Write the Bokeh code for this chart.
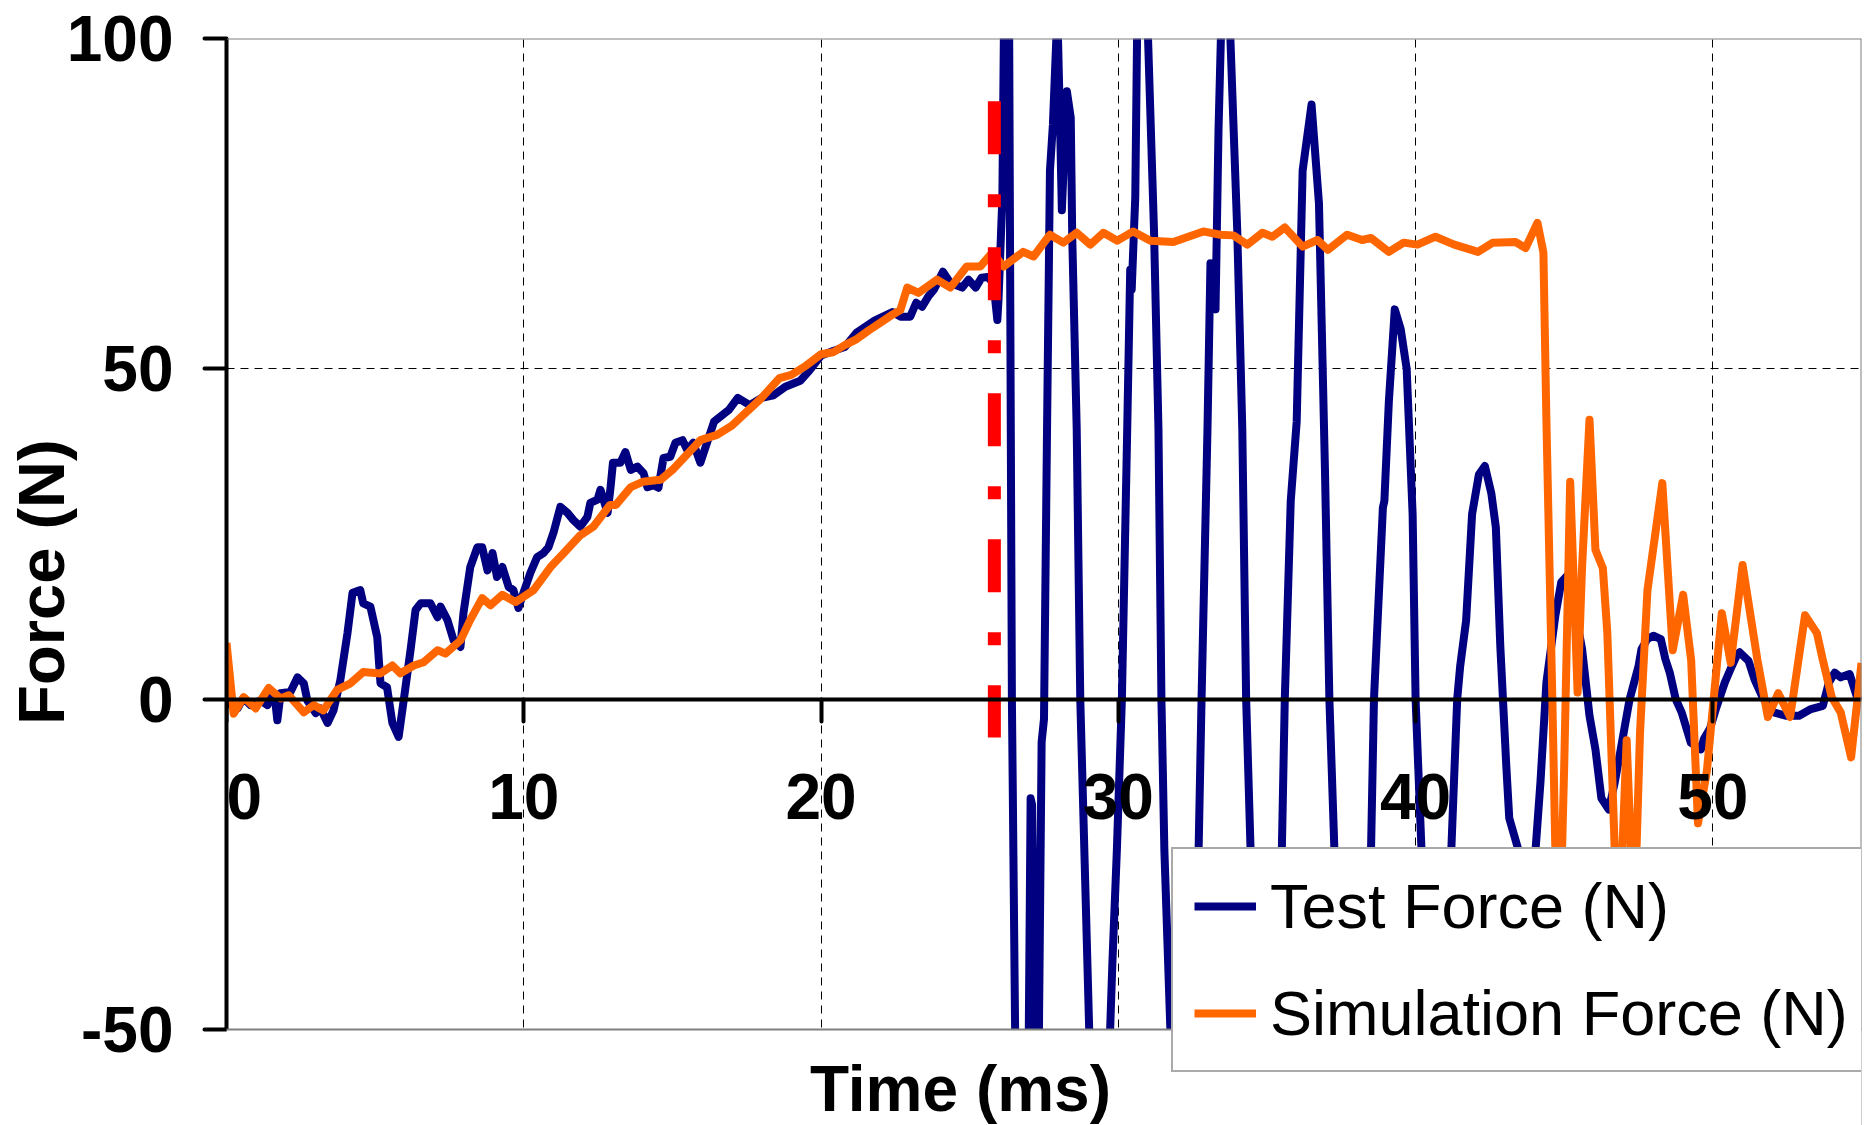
from bokeh.plotting import figure
from bokeh.models import Range1d, Label, Legend, LegendItem, FixedTicker, BoxAnnotation, Span
from bokeh.embed import file_html
from bokeh.resources import INLINE

# ---------------- data ----------------
test_time = [0.0, 0.13, 0.37, 0.57, 0.81, 1.14, 1.38, 1.48, 1.62, 1.71, 1.82, 2.15, 2.39, 2.6, 2.72,
             3.0, 3.16, 3.4, 3.6, 3.83, 4.07, 4.24, 4.5, 4.6, 4.84, 5.07, 5.18, 5.4, 5.58, 5.79,
             5.96, 6.19, 6.36, 6.53, 6.86, 7.1, 7.2, 7.43, 7.64, 7.87, 7.97, 8.2, 8.44, 8.6, 8.78,
             8.95, 9.1, 9.28, 9.49, 9.65, 9.82, 9.99, 10.22, 10.45, 10.66, 10.83, 11.0, 11.23, 11.47,
             11.67, 11.9, 12.14, 12.24, 12.48, 12.58, 12.82, 12.92, 13.0, 13.25, 13.42, 13.6, 13.82,
             14.03, 14.16, 14.36, 14.53, 14.7, 14.93, 15.1, 15.34, 15.5, 15.7, 15.94, 16.4, 16.9,
             17.2, 17.6, 18.0, 18.4, 18.8, 19.3, 19.6, 20.0, 20.4, 20.8, 21.2, 21.8, 22.4, 22.67,
             23.0, 23.2, 23.4, 23.6, 23.8, 24.1, 24.35, 24.75, 24.96, 25.2, 25.4, 25.6, 25.8, 25.93,
             25.97, 26.1, 26.2, 26.32, 26.42, 26.55, 26.75, 26.98, 27.05, 27.1, 27.2, 27.32, 27.42,
             27.5, 27.6, 27.7, 27.8, 27.95, 28.05, 28.1, 28.27, 28.4, 28.45, 28.6, 28.72, 28.9, 29.2,
             29.5, 29.8, 29.95, 30.12, 30.3, 30.4, 30.45, 30.57, 30.63, 30.8, 31.0, 31.2, 31.35,
             31.45, 31.55, 31.9, 32.4, 32.7, 32.8, 33.0, 33.1, 33.27, 33.37, 33.45, 33.6, 33.77,
             34.0, 34.17, 34.3, 34.45, 34.9, 35.3, 35.5, 35.6, 35.8, 36.0, 36.2, 36.5, 36.75, 36.95,
             37.1, 37.27, 37.8, 38.3, 38.5, 38.6, 38.9, 38.95, 39.1, 39.3, 39.5, 39.7, 39.9, 40.0,
             40.2, 40.7, 41.0, 41.2, 41.4, 41.5, 41.7, 41.9, 42.13, 42.33, 42.55, 42.7, 42.85, 43.05,
             43.15, 43.47, 43.7, 44.0, 44.2, 44.4, 44.7, 44.9, 45.1, 45.3, 45.6, 45.85, 46.05, 46.25,
             46.5, 46.7, 46.9, 47.2, 47.5, 47.6, 47.8, 48.0, 48.25, 48.4, 48.55, 48.75, 48.95, 49.26,
             49.6, 49.7, 49.9, 50.1, 50.4, 50.6, 50.8, 50.9, 51.2, 51.4, 51.65, 51.85, 52.05, 52.45,
             52.9, 53.3, 53.7, 53.9, 54.1, 54.3, 54.6, 54.85, 55.0]
test_force = [-1.2, 0.2, -1.4, 0.2, -0.9, -0.2, -0.9, 1.1, 0.5, -3.2, 0.9, 1.1, 3.3, 2.4, -0.2,
              -2.1, -1.4, -3.6, -1.7, 2.9, 10, 16.1, 16.5, 14.5, 14, 9.4, 2.4, 1.8, -3.6, -5.7,
              -0.2, 7.4, 13.5, 14.5, 14.5, 12.4, 14, 12, 8.9, 7.9, 13, 20, 23, 23, 19.5,
              22.1, 18.5, 20, 17, 16.5, 13.8, 16.1, 19.1, 21.5, 22.1, 23, 25.2, 29.1, 28.2,
              27.1, 26.1, 27.6, 29.7, 30.2, 31.7, 28.2, 32.1, 35.8, 35.8, 37.4, 34.7, 35.2,
              34.2, 32.1, 32.4, 32, 36.5, 36.7, 38.8, 39.2, 37.7, 38.8, 35.8, 42, 43.8,
              45.6, 44.5, 45.6, 46, 47.3, 48.2, 49.7, 52, 52.7, 53.3, 55.5, 57.3, 58.6, 57.9,
              57.9, 60, 59.4, 60.9, 62, 64.7, 63, 62.3, 63.5, 62.3, 63.8, 63.9, 63, 57.4,
              60.5, 76, 125, 110, 0, -60, -85, -55, -15, -16, -55, -55, -6.5,
              -3, 40, 80, 87, 104, 85, 74, 92, 88, 70, 41, 0, -30, -80,
              -80, -40, -23, 0, 41, 65, 62, 76, 100, 130, 100, 71, 41,
              0, -23, -70, -70, -23, 0, 41, 66, 59, 86, 100, 125, 100,
              71, 41, 0, -23, -55, -50, -23, 0, 30, 42, 80, 90, 75, 35,
              0, -23, -45, -40, -23, 0, 29, 30, 45, 59, 56, 50, 28, 0,
              -23, -40, -35, -23, 0, 5, 11.9, 28, 34, 35.3, 31.1, 26, 8, -10,
              -18, -23, -30, -25, -12.6, 2.5, 12.6, 17.7, 18.7, 15, 7.6, -2.5, -7.6, -15,
              -16.7, -12.6, -7.6, 0, 5, 7.6, 9.1, 9.6, 9.1, 6.1, 4, 0, -2, -6.6,
              -7.6, -6, -4.5, -1.5, 2.5, 4.6, 6.6, 7.1, 5.8, 3, 0.5, -1, -2, -2.5,
              -2.5, -1.5, -1, 2.5, 4, 3.3, 3.8, 0.3, 0.5]

sim_time = [0.0, 0.24, 0.58, 0.98, 1.42, 1.82, 2.09, 2.6, 2.93, 3.26, 3.72, 4.17, 4.6, 5.18, 5.58,
            5.85, 6.3, 6.63, 7.1, 7.37, 7.87, 8.2, 8.6, 8.88, 9.28, 9.72, 10.33, 10.9, 11.34, 11.9,
            12.34, 12.9, 13.1, 13.6, 14.0, 14.6, 15.0, 15.94, 16.5, 17.0, 17.5, 18.0, 18.6, 19.0,
            19.5, 20.0, 20.4, 20.8, 21.2, 21.6, 22.0, 22.4, 22.67, 22.9, 23.28, 23.9, 24.35, 24.9,
            25.36, 25.76, 26.14, 26.8, 27.15, 27.7, 28.15, 28.6, 29.06, 29.5, 29.97, 30.5, 31.08,
            31.85, 32.86, 33.43, 33.87, 34.34, 34.85, 35.18, 35.6, 36.2, 36.7, 37.05, 37.7, 38.2,
            38.5, 39.1, 39.6, 40.06, 40.67, 41.3, 42.1, 42.6, 43.36, 43.7, 44.1, 44.3, 44.4, 44.6,
            44.8, 45.0, 45.2, 45.45, 45.6, 45.85, 46.05, 46.3, 46.45, 46.7, 46.85, 47.1, 47.35,
            47.55, 47.8, 48.3, 48.65, 49.0, 49.27, 49.5, 49.8, 50.3, 50.6, 51.0, 51.5, 51.85, 52.2,
            52.6, 53.1, 53.5, 53.7, 54.0, 54.3, 54.65, 55.0]
sim_force = [8.5, -2.2, 0.3, -1.4, 1.7, 0.1, 0.6, -2, -0.9, -1.7, 1.4, 2.4, 4.1, 3.9, 5.1,
             3.9, 5.1, 5.6, 7.4, 6.9, 8.9, 12, 15.3, 14.2, 15.8, 14.7, 16.5, 20, 22.1, 24.8,
             26.1, 29.4, 29.4, 32.1, 32.9, 33.2, 34.7, 39.2, 40, 41.4, 43.5, 45.6, 48.6, 49.1,
             50.5, 52.2, 52.5, 53.6, 54.5, 55.8, 57, 58.2, 58.9, 62.3, 61.5, 63.5, 62.3, 65.5,
             65.5, 67.6, 65.5, 67.7, 67, 70.3, 69.1, 70.6, 68.8, 70.6, 69.4, 70.8, 69.4,
             69.2, 70.8, 70.3, 70.2, 68.8, 70.6, 70, 71.4, 68.5, 69.5, 68, 70.3, 69.5,
             69.8, 67.7, 69.1, 68.8, 70, 68.8, 67.7, 69.1, 69.2, 68.3, 72.1, 67.6, 42.3, 0,
             -45, -10, 32.9, 1, 20, 42.3, 22.6, 19.8, 10, -23, -35, -6.2, -35,
             -5, 16.5, 32.7, 7.4, 15.8, 5.9, -18.8, -10.8, 13, 5.5, 20.3, 5.9, -2.7, 0.9,
             -2.7, 12.7, 10, 5.9, 0.3, -2, -8.8, 5.5]

marker_time = [25.83, 25.83]
marker_force = [90.5, -5.8]

x_ticks = [0, 10, 20, 30, 40, 50]
y_ticks = [-50, 0, 50, 100]
x_grid = [10, 20, 30, 40, 50]
y_grid = [50]
x_limits = (0, 55)
y_limits = (-50, 100)

FONT = "Liberation Sans"
GRAY = "#808080"

# the frame runs down to the page bottom so that the legend and the x title,
# which hang below the -50 line in the original, are not clipped
y_floor = -64.53

p = figure(width=1865, height=1125,
           x_range=Range1d(*x_limits), y_range=Range1d(y_floor, y_limits[1]),
           output_backend="svg", toolbar_location=None,
           min_border_left=226, min_border_right=4,
           min_border_top=38, min_border_bottom=0)

p.background_fill_color = "white"
p.border_fill_color = "white"
p.outline_line_color = None

# grids
p.xgrid.ticker = FixedTicker(ticks=x_grid)
p.ygrid.ticker = FixedTicker(ticks=y_grid)
for g in (p.xgrid, p.ygrid):
    g.grid_line_color = "black"
    g.grid_line_width = 1
    g.grid_line_dash = "8 6"

# x axis crossing at y = 0
xa = p.xaxis[0]
xa.fixed_location = 0
xa.ticker = FixedTicker(ticks=x_ticks)
xa.major_label_overrides = {0: "\u00a0\u00a00"}
ya = p.yaxis[0]
ya.ticker = FixedTicker(ticks=y_ticks)
ya.bounds = y_limits
ya.major_label_overrides = {-50: "-50"}
for ax in (xa, ya):
    ax.axis_line_color = "black"
    ax.axis_line_width = 4
    ax.major_tick_line_color = "black"
    ax.major_tick_line_width = 4
    ax.major_tick_line_cap = "round"
    ax.major_tick_out = 22
    ax.major_tick_in = 0
    ax.minor_tick_line_color = None
    ax.major_label_text_font = FONT
    ax.major_label_text_font_style = "bold"
    ax.major_label_text_font_size = "64px"
    ax.major_label_text_color = "black"
xa.major_label_standoff = 40
ya.major_label_standoff = 31

ya.axis_label = "Force (N)"
ya.axis_label_text_font = FONT
ya.axis_label_text_font_style = "bold"
ya.axis_label_text_font_size = "65px"
ya.axis_label_text_color = "black"
ya.axis_label_standoff = -14

# series
r_test = p.line(test_time, test_force, line_color="#000080", line_width=8, line_join="round")
r_sim = p.line(sim_time, sim_force, line_color="#FF6600", line_width=8, line_join="round")
p.line(marker_time, marker_force, line_color="#FF0000", line_width=13, line_dash="53 40 13 40")

# plot-area border (right edge first, then mask below -50, then bottom/top edges)
p.add_layout(Span(location=x_limits[1], dimension="height", line_color=GRAY, line_width=2))
p.add_layout(BoxAnnotation(top=y_limits[0], fill_color="white", fill_alpha=1, line_color=None))
p.add_layout(Span(location=y_limits[0], dimension="width", line_color=GRAY, line_width=2))
p.add_layout(Span(location=y_limits[1], dimension="width", line_color=GRAY, line_width=2))

# x axis title
p.add_layout(Label(x=24.69, y=y_limits[0], y_offset=-59, text="Time (ms)",
                   text_align="center", text_baseline="alphabetic",
                   text_font=FONT, text_font_style="bold", text_font_size="64px",
                   text_color="black"))

legend = Legend(items=[LegendItem(label="Test Force (N)", renderers=[r_test]),
                       LegendItem(label="Simulation Force (N)", renderers=[r_sim])],
                location=(945, 53))
legend.label_text_font = FONT
legend.label_text_font_size = "63px"
legend.label_text_color = "black"
legend.padding = 21
legend.spacing = 35
legend.margin = 0
legend.glyph_width = 62
legend.label_standoff = 14
legend.border_line_color = "#555555"
legend.border_line_width = 2
legend.background_fill_color = "white"
legend.background_fill_alpha = 1
p.add_layout(legend)

open("out.html", "w").write(file_html(p, INLINE))
